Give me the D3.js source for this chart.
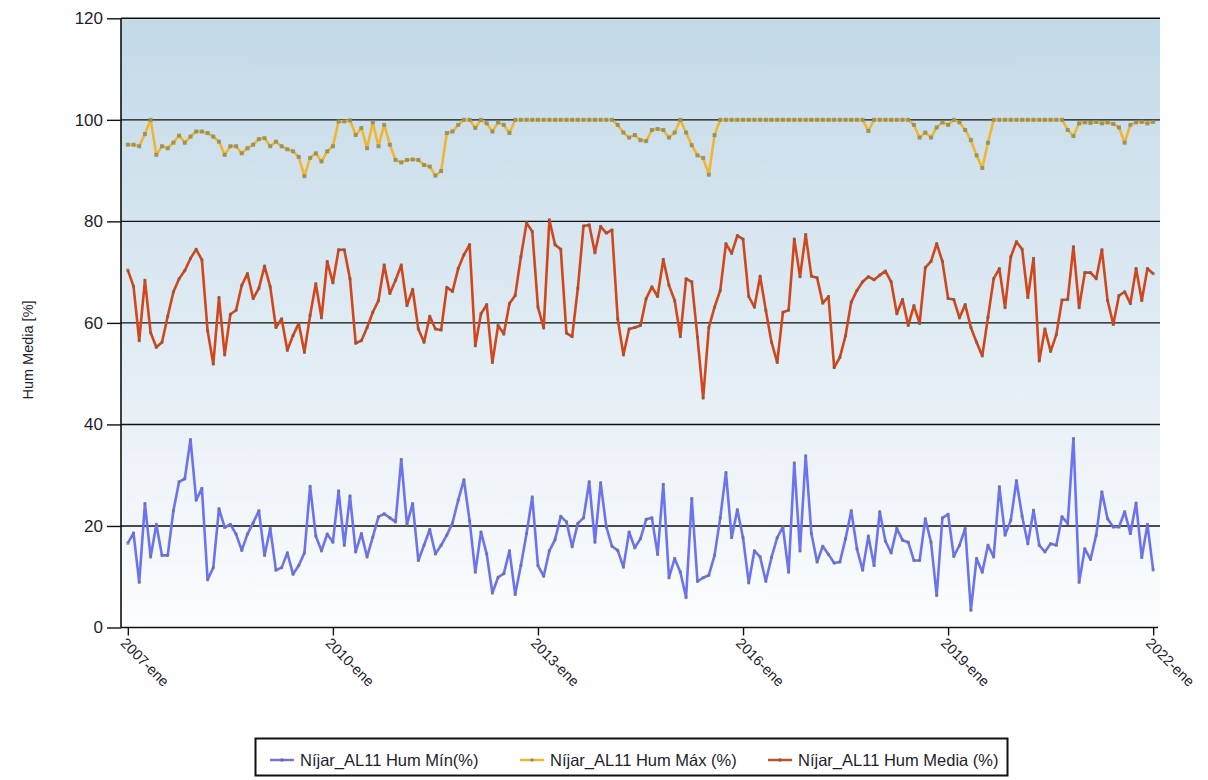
<!DOCTYPE html>
<html>
<head>
<meta charset="utf-8">
<script src="https://cdn.jsdelivr.net/npm/d3@7"></script>
<style>
  body { margin: 0; background: #ffffff; }
  text { font-family: "Liberation Sans", Arial, sans-serif; }
</style>
</head>
<body>
<div id="vis-holder"></div>
<script>
// Chart size and plot box
const width = 1208;
const height = 780;
const margin = { top: 18, right: 48, bottom: 153, left: 121 };

// Month index 0 = 2007-ene ... 180 = 2022-ene
const tickMonths = [0, 36, 72, 108, 144, 180];
const tickLabels = ["2007-ene", "2010-ene", "2013-ene", "2016-ene", "2019-ene", "2022-ene"];
const yTicks = [0, 20, 40, 60, 80, 100, 120];

const seriesNames = ["Níjar_AL11 Hum Mín(%)", "Níjar_AL11 Hum Máx (%)", "Níjar_AL11 Hum Media (%)"];

// Monthly minimum humidity (%)
const humMin = [
  16.6, 18.6, 8.9, 24.4, 13.9, 20.3, 14.2, 14.2, 23.0, 28.7, 29.3, 37.0,
  25.1, 27.4, 9.4, 11.8, 23.4, 19.7, 20.3, 18.4, 15.2, 18.4, 20.6, 23.0,
  14.2, 19.5, 11.3, 11.8, 14.7, 10.5, 12.2, 14.7, 27.8, 18.0, 15.1, 18.4,
  16.8, 26.9, 16.2, 25.9, 14.9, 18.5, 13.9, 17.8, 21.8, 22.4, 21.6, 20.8,
  33.1, 20.3, 24.4, 13.2, 16.2, 19.3, 14.5, 16.2, 18.2, 20.6, 25.1, 29.1,
  21.0, 10.9, 18.8, 14.5, 6.8, 9.9, 10.6, 15.1, 6.5, 12.2, 18.5, 25.7,
  12.2, 10.1, 15.1, 17.3, 21.9, 20.8, 15.9, 20.5, 21.6, 28.7, 16.8, 28.5,
  19.8, 16.0, 15.2, 11.9, 18.8, 15.7, 17.5, 21.3, 21.6, 14.4, 28.2, 9.8,
  13.6, 10.9, 5.9, 25.4, 9.1, 9.8, 10.3, 14.2, 21.6, 30.5, 17.7, 23.2,
  17.7, 8.8, 15.1, 13.9, 9.1, 13.8, 17.7, 19.8, 10.9, 32.4, 15.1, 33.8,
  18.5, 12.9, 16.0, 14.4, 12.7, 12.9, 17.5, 23.0, 15.5, 11.3, 18.0, 12.2,
  22.8, 17.0, 14.7, 19.5, 17.2, 16.8, 13.2, 13.2, 21.4, 16.8, 6.3, 21.6,
  22.3, 14.0, 16.2, 19.5, 3.4, 13.6, 10.9, 16.2, 13.9, 27.7, 18.2, 21.1,
  28.9, 21.9, 16.5, 23.1, 16.2, 14.9, 16.5, 16.2, 21.8, 20.5, 37.2, 8.9,
  15.5, 13.4, 18.2, 26.7, 21.4, 19.8, 19.8, 22.8, 18.5, 24.5, 13.8, 20.3,
  11.3
];

// Monthly maximum humidity (%)
const humMax = [
  95.1, 95.1, 94.8, 97.2, 100, 93.1, 94.8, 94.4, 95.5, 96.9, 95.5, 96.7,
  97.7, 97.7, 97.4, 96.7, 95.7, 93.1, 94.8, 94.8, 93.4, 94.4, 95.1, 96.2,
  96.4, 94.8, 95.7, 94.8, 94.2, 93.8, 92.7, 88.9, 92.5, 93.4, 91.8, 93.8,
  94.8, 99.7, 99.7, 99.9, 97.0, 98.4, 94.4, 99.5, 94.8, 99.0, 95.1, 92.1,
  91.6, 92.1, 92.2, 92.1, 91.1, 90.8, 89.0, 89.9, 97.4, 97.7, 99.0, 100,
  100, 98.4, 100, 99.3, 97.7, 99.5, 99.0, 97.4, 100, 100, 100, 100,
  100, 100, 100, 100, 100, 100, 100, 100, 100, 100, 100, 100,
  100, 100, 99.0, 97.5, 96.5, 97.0, 96.0, 95.8, 98.0, 98.2, 98.0, 96.5,
  97.5, 100, 97.5, 95.0, 93.0, 92.5, 89.2, 97.0, 100, 100, 100, 100,
  100, 100, 100, 100, 100, 100, 100, 100, 100, 100, 100, 100,
  100, 100, 100, 100, 100, 100, 100, 100, 100, 100, 97.8, 100,
  100, 100, 100, 100, 100, 100, 99.0, 96.5, 97.5, 96.5, 98.5, 99.5,
  99.0, 100, 99.5, 98.0, 96.0, 93.0, 90.5, 95.5, 100, 100, 100, 100,
  100, 100, 100, 100, 100, 100, 100, 100, 100, 98.0, 96.8, 99.3,
  99.5, 99.4, 99.6, 99.3, 99.5, 99.2, 98.5, 95.5, 99.0, 99.5, 99.6, 99.3,
  99.6
];

// Monthly mean humidity (%)
const humMedia = [
  70.4, 67.2, 56.5, 68.4, 58.1, 55.2, 56.2, 61.3, 66.1, 68.7, 70.3, 72.7,
  74.5, 72.4, 58.5, 51.9, 65.0, 53.7, 61.7, 62.5, 67.4, 69.7, 64.8, 66.8,
  71.2, 67.1, 59.1, 60.8, 54.6, 57.5, 59.9, 54.2, 61.5, 67.7, 61.0, 72.1,
  67.9, 74.4, 74.4, 68.7, 56.0, 56.5, 59.1, 62.1, 64.4, 71.4, 65.8, 68.4,
  71.4, 63.4, 66.6, 58.8, 56.2, 61.3, 58.8, 58.6, 67.0, 66.2, 70.7, 73.4,
  75.4, 55.5, 61.8, 63.6, 52.2, 59.5, 57.8, 63.8, 65.4, 73.0, 79.7, 78.0,
  63.1, 59.0, 80.3, 75.4, 74.5, 58.0, 57.3, 66.8, 79.1, 79.3, 73.8, 79.0,
  77.7, 78.3, 60.8, 53.7, 58.8, 59.1, 59.5, 64.8, 67.1, 65.2, 72.5, 67.4,
  64.4, 57.3, 68.7, 68.1, 57.2, 45.2, 59.1, 63.1, 66.4, 75.6, 73.7, 77.2,
  76.5, 65.2, 63.1, 69.2, 62.5, 56.2, 52.2, 62.1, 62.5, 76.5, 69.1, 77.4,
  69.2, 68.9, 63.9, 65.2, 51.2, 53.2, 57.5, 64.1, 66.4, 68.1, 69.1, 68.5,
  69.4, 70.2, 68.1, 61.8, 64.6, 59.5, 63.4, 59.9, 70.9, 72.1, 75.6, 72.1,
  64.8, 64.6, 61.0, 63.6, 59.1, 56.2, 53.5, 61.1, 68.7, 70.7, 63.0, 73.0,
  76.0, 74.5, 65.0, 72.7, 52.5, 58.8, 54.4, 57.7, 64.5, 64.6, 75.0, 63.0,
  69.9, 69.9, 68.7, 74.4, 64.4, 59.7, 65.4, 66.1, 63.8, 70.7, 64.4, 70.7,
  69.7
];

// Line colours, in legend order
const colors = ["#6b74ee", "#f2b52e", "#d2461b"];
const markerColors = ["#6f6f8a", "#8d8c5e", "#7d5a4a"];

const svg = d3.select("#vis-holder")
  .append("svg")
  .attr("width", width)
  .attr("height", height);

// Scales
const x = d3.scaleLinear()
  .domain([-1.2, 181.2])
  .range([margin.left, width - margin.right]);

const y = d3.scaleLinear()
  .domain([0, 120])
  .range([height - margin.bottom + 0.5, margin.top + 0.3]);

// Plot background gradient (blue on top fading to white)
const grad = svg.append("defs").append("linearGradient")
  .attr("id", "bg")
  .attr("x1", 0).attr("y1", 0).attr("x2", 0).attr("y2", 1);
grad.append("stop").attr("offset", "0%").attr("stop-color", "#c3d9e8");
grad.append("stop").attr("offset", "20%").attr("stop-color", "#cee0ec");
grad.append("stop").attr("offset", "50%").attr("stop-color", "#dfebf3");
grad.append("stop").attr("offset", "72%").attr("stop-color", "#edf3f8");
grad.append("stop").attr("offset", "100%").attr("stop-color", "#fcfdfe");

svg.append("rect")
  .attr("x", margin.left)
  .attr("y", y(120))
  .attr("width", width - margin.right - margin.left)
  .attr("height", y(0) - y(120))
  .attr("fill", "url(#bg)");

// Horizontal grid lines
svg.append("g")
  .selectAll("line")
  .data(yTicks.filter(d => d > 0))
  .join("line")
  .attr("x1", margin.left)
  .attr("x2", width - margin.right)
  .attr("y1", d => y(d))
  .attr("y2", d => y(d))
  .attr("stroke", "#111")
  .attr("stroke-width", 1.4);

// Y axis
svg.append("g")
  .attr("transform", `translate(${margin.left},0)`)
  .call(d3.axisLeft(y).tickValues(yTicks).tickSize(14).tickPadding(4))
  .call(g => g.select(".domain").remove())
  .call(g => g.selectAll(".tick line").attr("stroke", "#111").attr("stroke-width", 1.4))
  .call(g => g.selectAll(".tick text")
    .attr("font-size", "17px")
    .attr("font-family", "Liberation Sans, Arial, sans-serif")
    .attr("fill", "#1e1e2e"));

svg.append("line")
  .attr("x1", margin.left).attr("x2", margin.left)
  .attr("y1", y(120)).attr("y2", y(0))
  .attr("stroke", "#111").attr("stroke-width", 1.6);

// X axis with rotated month labels
svg.append("g")
  .attr("transform", `translate(0,${y(0)})`)
  .call(d3.axisBottom(x).tickValues(tickMonths).tickSize(8)
    .tickFormat((d, i) => tickLabels[i]))
  .call(g => g.select(".domain")
    .attr("d", `M${margin.left},0H${width - margin.right - 2}`)
    .attr("stroke", "#111").attr("stroke-width", 1.6))
  .call(g => g.selectAll(".tick line").attr("stroke", "#111").attr("stroke-width", 1.4))
  .call(g => g.selectAll(".tick text")
    .attr("x", 0).attr("y", 0).attr("dy", "0.35em")
    .attr("text-anchor", "start")
    .attr("transform", "translate(-5,13) rotate(45)")
    .attr("font-size", "14.5px")
    .attr("font-family", "DejaVu Sans, Verdana, sans-serif")
    .attr("fill", "#1e1e2e"));

// Y axis title
svg.append("text")
  .attr("transform", "translate(33,350) rotate(-90)")
  .attr("text-anchor", "middle")
  .attr("font-size", "14.5px")
  .attr("fill", "#1e1e2e")
  .text("Hum Media [%]");

// Lines and point markers
const allSeries = [humMin, humMax, humMedia];
const line = d3.line()
  .x((d, i) => x(i))
  .y(d => y(d));

allSeries.forEach((vals, k) => {
  svg.append("path")
    .datum(vals)
    .attr("fill", "none")
    .attr("stroke", colors[k])
    .attr("stroke-width", 2.6)
    .attr("stroke-linejoin", "round")
    .attr("d", line);

  svg.append("g")
    .selectAll("rect")
    .data(vals)
    .join("rect")
    .attr("x", (d, i) => x(i) - (k == 1 ? 2 : 1.5))
    .attr("y", d => y(d) - (k == 1 ? 2 : 1.5))
    .attr("width", k == 1 ? 4 : 3)
    .attr("height", k == 1 ? 4 : 3)
    .attr("fill", markerColors[k])
    .attr("opacity", k == 1 ? 0.85 : 0.7);
});

// Legend box
const legend = svg.append("g");
legend.append("rect")
  .attr("x", 255.5).attr("y", 738.5)
  .attr("width", 752).attr("height", 37)
  .attr("fill", "#fff")
  .attr("stroke", "#111")
  .attr("stroke-width", 2);

const legendX = [270, 520, 768];
seriesNames.forEach((name, k) => {
  legend.append("line")
    .attr("x1", legendX[k]).attr("x2", legendX[k] + 24)
    .attr("y1", 760).attr("y2", 760)
    .attr("stroke", colors[k])
    .attr("stroke-width", 2.4);
  legend.append("rect")
    .attr("x", legendX[k] + 10.5).attr("y", 758.5)
    .attr("width", 3).attr("height", 3)
    .attr("fill", markerColors[k]);
  legend.append("text")
    .attr("x", legendX[k] + 30)
    .attr("y", 766)
    .attr("font-size", "16.5px")
    .attr("fill", "#1e1e2e")
    .text(name);
});
</script>
</body>
</html>
